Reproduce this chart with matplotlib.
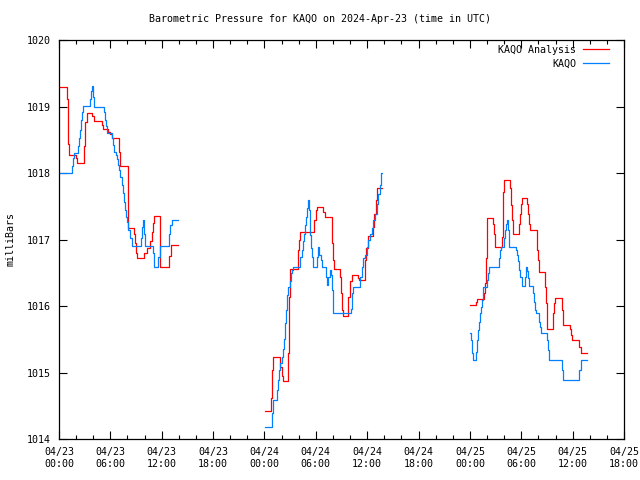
import datetime as dt
import matplotlib
matplotlib.use("Agg")
import matplotlib.pyplot as plt
from matplotlib.ticker import MultipleLocator

# hours since 2024-04-23 00:00 UTC, pressure in mb (step changes)
ana_t1 = [0.12, 0.90, 1.01, 1.09, 1.21, 1.95, 2.10, 2.96, 3.08, 3.23, 3.89, 4.13, 4.98, 5.18,
          5.76, 5.96, 6.15, 7.05, 7.16, 8.02, 8.10, 8.75, 8.88, 9.00, 9.15, 9.97, 10.30, 10.67,
          10.87, 10.98, 11.10, 11.85, 12.80, 13.05, 13.94]
ana_p1 = [1019.29, 1019.11, 1018.79, 1018.44, 1018.27, 1018.23, 1018.15, 1018.40, 1018.77,
          1018.90, 1018.85, 1018.78, 1018.72, 1018.66, 1018.62, 1018.58, 1018.52, 1018.32,
          1018.11, 1017.54, 1017.17, 1017.09, 1016.94, 1016.80, 1016.72, 1016.80, 1016.87,
          1016.97, 1017.12, 1017.25, 1017.35, 1016.59, 1016.75, 1016.92, 1016.92]

obs_t1 = [0.12, 1.56, 1.67, 1.79, 2.26, 2.37, 2.49, 2.57, 2.73, 2.84, 3.66, 3.74, 3.82, 3.93,
          4.05, 4.13, 5.30, 5.37, 5.49, 5.57, 6.15, 6.35, 6.46, 6.66, 6.78, 6.93, 7.05, 7.16,
          7.32, 7.44, 7.55, 7.71, 7.83, 7.94, 8.10, 8.29, 8.49, 9.58, 9.74, 9.85, 9.93, 10.05,
          10.94, 11.06, 11.14, 11.61, 11.80, 12.89, 13.01, 13.16, 13.94]
obs_p1 = [1018.00, 1018.10, 1018.22, 1018.30, 1018.40, 1018.52, 1018.65, 1018.80, 1018.92,
          1019.01, 1019.12, 1019.24, 1019.31, 1019.15, 1019.06, 1019.00, 1018.92, 1018.80,
          1018.70, 1018.60, 1018.52, 1018.42, 1018.31, 1018.27, 1018.21, 1018.12, 1018.05,
          1017.94, 1017.82, 1017.70, 1017.57, 1017.44, 1017.34, 1017.27, 1017.14, 1017.02,
          1016.90, 1017.02, 1017.19, 1017.29, 1017.09, 1016.90, 1016.79, 1016.67, 1016.59,
          1016.74, 1016.90, 1017.09, 1017.22, 1017.30, 1017.30]

ana_t2 = [24.07, 24.77, 24.92, 25.04, 25.82, 26.01, 26.13, 26.79, 26.91, 27.02, 27.88, 27.96,
          28.08, 28.15, 29.83, 29.98, 30.10, 30.88, 31.07, 31.85, 31.93, 32.05, 32.17, 32.83,
          32.94, 33.10, 33.22, 33.80, 34.00, 34.19, 34.89, 35.05, 35.75, 35.86, 36.06, 36.72,
          36.84, 36.99, 37.15, 37.69]
ana_p2 = [1014.42, 1014.61, 1015.04, 1015.24, 1015.09, 1014.94, 1014.87, 1015.30, 1016.14,
          1016.55, 1016.67, 1016.84, 1017.00, 1017.12, 1017.29, 1017.44, 1017.49, 1017.42,
          1017.34, 1017.19, 1016.94, 1016.69, 1016.55, 1016.44, 1016.19, 1015.94, 1015.85,
          1016.14, 1016.37, 1016.46, 1016.42, 1016.39, 1016.69, 1016.87, 1017.05, 1017.19,
          1017.39, 1017.59, 1017.77, 1017.77]

obs_t2 = [24.07, 24.84, 25.04, 25.43, 25.55, 25.70, 25.82, 26.01, 26.13, 26.25, 26.40, 26.52,
          26.64, 26.79, 26.99, 27.10, 27.26, 27.38, 28.19, 28.35, 28.47, 28.58, 28.74, 28.86,
          28.93, 29.05, 29.13, 29.21, 29.32, 29.44, 29.60, 29.71, 30.14, 30.30, 30.41, 30.61,
          30.76, 31.19, 31.31, 31.46, 31.66, 31.78, 31.93, 32.05, 34.11, 34.27, 34.38, 35.16,
          35.36, 35.55, 35.75, 35.94, 36.14, 36.33, 36.53, 36.72, 36.92, 37.11, 37.30, 37.50,
          37.65, 37.69]
obs_p2 = [1014.18, 1014.39, 1014.59, 1014.74, 1014.89, 1015.04, 1015.14, 1015.24, 1015.36,
          1015.51, 1015.74, 1015.94, 1016.17, 1016.29, 1016.37, 1016.49, 1016.54, 1016.59,
          1016.74, 1016.84, 1016.97, 1017.09, 1017.22, 1017.34, 1017.47, 1017.54, 1017.60,
          1017.44, 1017.07, 1016.87, 1016.74, 1016.59, 1016.74, 1016.89, 1016.77, 1016.69,
          1016.59, 1016.44, 1016.32, 1016.44, 1016.54, 1016.47, 1016.24, 1015.89, 1015.96,
          1016.19, 1016.29, 1016.44, 1016.59, 1016.72, 1016.77, 1016.89, 1016.99, 1017.09,
          1017.17, 1017.29, 1017.39, 1017.54, 1017.69, 1017.82, 1018.00, 1018.00]

ana_t3 = [48.01, 48.71, 48.87, 49.65, 49.77, 49.88, 49.96, 50.04, 50.74, 50.86, 50.97, 51.71,
          51.83, 51.91, 52.02, 52.69, 52.80, 52.92, 53.00, 53.74, 53.86, 53.97, 54.05, 54.71,
          54.83, 54.91, 55.02, 55.80, 55.88, 55.96, 56.04, 56.82, 56.89, 56.97, 57.75, 57.87,
          57.98, 58.76, 58.92, 59.70, 59.81, 59.93, 60.79, 60.94, 61.64]
ana_p3 = [1016.02, 1016.06, 1016.11, 1016.19, 1016.34, 1016.72, 1017.12, 1017.32, 1017.24,
          1017.09, 1016.88, 1017.04, 1017.39, 1017.72, 1017.90, 1017.77, 1017.52, 1017.29,
          1017.09, 1017.24, 1017.39, 1017.54, 1017.62, 1017.54, 1017.39, 1017.24, 1017.15,
          1017.04, 1016.84, 1016.69, 1016.51, 1016.29, 1016.04, 1015.66, 1015.89, 1016.04,
          1016.12, 1015.94, 1015.72, 1015.66, 1015.56, 1015.49, 1015.39, 1015.29, 1015.29]

obs_t3 = [48.01, 48.13, 48.25, 48.33, 48.71, 48.79, 48.91, 49.03, 49.18, 49.30, 49.42, 49.57,
          49.96, 50.08, 50.23, 51.44, 51.56, 51.67, 51.99, 52.10, 52.22, 52.34, 52.41, 52.53,
          52.61, 53.39, 53.47, 53.58, 53.70, 53.86, 54.05, 54.44, 54.56, 54.63, 54.75, 54.91,
          55.34, 55.45, 55.57, 55.69, 56.11, 56.19, 56.31, 57.05, 57.16, 57.28, 58.76, 58.92,
          60.79, 60.94, 61.64]
obs_p3 = [1015.59, 1015.49, 1015.29, 1015.19, 1015.31, 1015.49, 1015.64, 1015.76, 1015.89,
          1015.99, 1016.09, 1016.29, 1016.39, 1016.49, 1016.59, 1016.72, 1016.84, 1016.88,
          1017.02, 1017.14, 1017.24, 1017.30, 1017.14, 1016.99, 1016.89, 1016.84, 1016.77,
          1016.67, 1016.54, 1016.44, 1016.30, 1016.44, 1016.59, 1016.52, 1016.42, 1016.30,
          1016.19, 1016.06, 1015.94, 1015.89, 1015.76, 1015.69, 1015.59, 1015.49, 1015.34,
          1015.19, 1015.04, 1014.89, 1015.04, 1015.19, 1015.19]

start = dt.datetime(2024, 4, 23)
tick_hours = list(range(0, 67, 6))
tick_labels = [(start + dt.timedelta(hours=h)).strftime("%m/%d\n%H:%M") for h in tick_hours]

plt.rcParams['font.family'] = 'DejaVu Sans Mono'
plt.rcParams['font.size'] = 7.2

fig = plt.figure(figsize=(6.4, 4.8), dpi=100)
ax = fig.add_axes([59/640, 41/480, 565/640, 399/480])

red = '#ff0000'
blue = '#0080ff'
segs = [(ana_t1, ana_p1, obs_t1, obs_p1), (ana_t2, ana_p2, obs_t2, obs_p2),
        (ana_t3, ana_p3, obs_t3, obs_p3)]
for i, (at, ap, ot, op) in enumerate(segs):
    ax.plot(at, ap, drawstyle='steps-post', color=red, lw=0.9,
            label='KAQO Analysis' if i == 0 else None)
    ax.plot(ot, op, drawstyle='steps-post', color=blue, lw=0.9,
            label='KAQO' if i == 0 else None)

ax.set_xlim(0, 66)
ax.set_ylim(1014, 1020)
ax.set_xticks(tick_hours)
ax.set_xticklabels(tick_labels)
ax.xaxis.set_minor_locator(MultipleLocator(2))
ax.yaxis.set_major_locator(MultipleLocator(1))
ax.tick_params(which='both', direction='in', top=True, right=True, width=0.8)
ax.tick_params(which='major', length=6, pad=6)
ax.tick_params(which='minor', length=3)
for s in ax.spines.values():
    s.set_linewidth(0.9)

ax.set_ylabel('milliBars', labelpad=8)
fig.text(0.5, 1 - 19/480, 'Barometric Pressure for KAQO on 2024-Apr-23 (time in UTC)',
         ha='center', va='center')

ax.legend(loc='upper right', bbox_to_anchor=(0.9805, 0.9975), frameon=False,
          markerfirst=False, handlelength=2.6, handletextpad=0.7, labelspacing=0.4,
          borderaxespad=0)

fig.savefig('out.png', dpi=100)
